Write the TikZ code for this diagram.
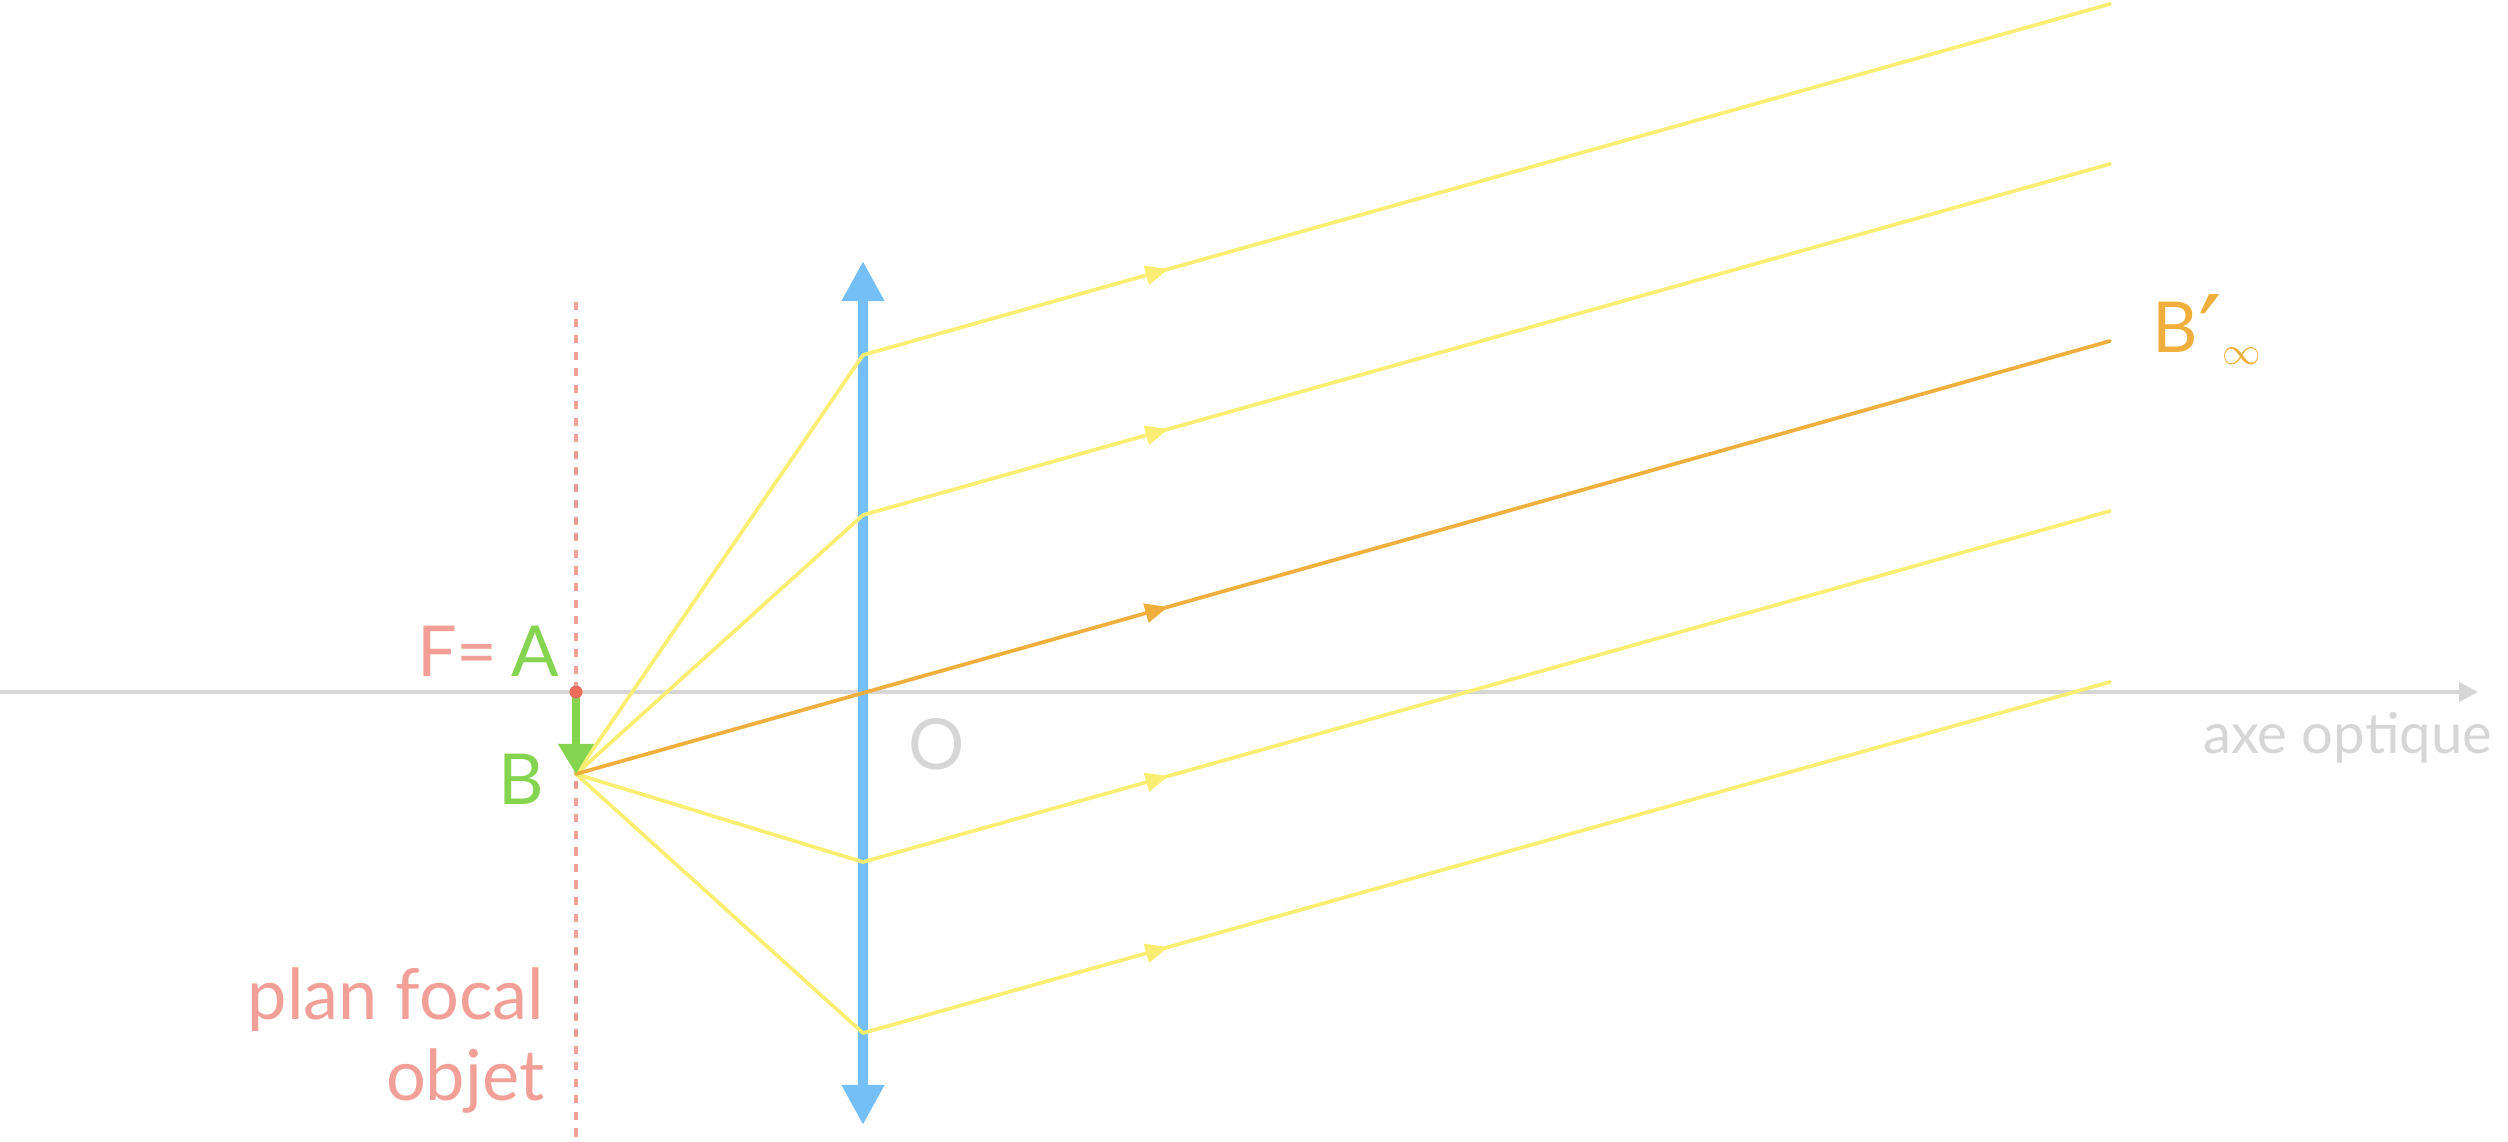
\documentclass[tikz,border=0pt]{standalone}
\usepackage{fontspec}
\setmainfont{Lato}
\newfontfamily\primefont{DejaVu Sans}
\usepackage{xcolor}
\usepackage{tikz}
\usetikzlibrary{arrows.meta,positioning,calc,decorations.markings}
\definecolor{rayyellow}{HTML}{F9EE72}
\definecolor{rayorange}{HTML}{F0AE3C}
\definecolor{objgreen}{HTML}{84D44F}
\definecolor{focalpink}{HTML}{F2A097}
\definecolor{dotred}{HTML}{EE6C58}
\definecolor{axisgray}{HTML}{D6D6D6}
\definecolor{lensblue}{HTML}{74BFF7}

\begin{document}
\begin{tikzpicture}[x=0.01cm, y=-0.01cm,
    lbl/.style={inner sep=0pt, font=\fontsize{20}{23}\selectfont},
    ray/.style={line width=1.05pt, line cap=round, line join=round},
    midarrow/.style={postaction={decorate}, decoration={markings,
        mark=at position #1 with {\arrow{Triangle[length=0.23cm,width=0.19cm]}}}}]
    \useasboundingbox (0,0) rectangle (2508,1142);

    \coordinate (axstart) at (0,692);
    \coordinate (axend) at (2478,692);
    \coordinate (A) at (576,692);
    \coordinate (B) at (576,774);
    \coordinate (O) at (863,692);
    \coordinate (focaltop) at (576,302);
    \coordinate (focalbot) at (576,1142);
    \coordinate (lenstop) at (863,261);
    \coordinate (lensbot) at (863,1125);
    \coordinate (L1) at (863,355);
    \coordinate (L2) at (863,515);
    \coordinate (L4) at (863,862);
    \coordinate (L5) at (863,1033);
    \coordinate (E1) at (2110,4);
    \coordinate (E2) at (2110,164);
    \coordinate (E3) at (2110,341);
    \coordinate (E4) at (2110,511);
    \coordinate (E5) at (2110,682);

    \draw [axisgray, line width=1.1pt, -{Triangle[length=0.19cm,width=0.19cm]}] (axstart) -- (axend);
    \draw [focalpink, line width=1.15pt, dash pattern=on 2.3pt off 2.4pt] (focaltop) -- (focalbot);
    \draw [lensblue, line width=2.85pt, {Triangle[length=0.4cm,width=0.4cm]}-{Triangle[length=0.4cm,width=0.4cm]}] (lensbot) -- (lenstop);

    \foreach \i in {1,2,4,5} {
        \draw [ray, rayyellow] (B) -- (L\i);
        \draw [ray, rayyellow, midarrow=0.245] (L\i) -- (E\i);
    }
    \draw [ray, rayorange, midarrow=0.386] (B) -- (E3);

    \draw [objgreen, line width=2pt, -{Triangle[length=0.3cm,width=0.34cm]}] (A) -- (B);
    \fill [dotred] (A) circle [radius=0.065cm];

    \node [lbl, above left=0.15cm and 0.16cm of A] (FAlbl) {{\color{focalpink}F=}\hspace{0.14cm}{\color{objgreen}A}};
    \node [lbl, left=0.31cm of B, yshift=-0.05cm, text=objgreen] (Blbl) {B};
    \node [lbl, below right=0.26cm and 0.45cm of O, text=axisgray] (Olbl) {O};
    \node [lbl, right=0.42cm of E3, yshift=0.08cm, text=rayorange, anchor=west] (Bplbl) {B\raisebox{-0.19cm}[0pt][0pt]{\primefont\fontsize{30}{30}\selectfont ′}\raisebox{-0.12cm}{\fontsize{11}{11}\selectfont$\infty$}};
    \node [lbl, font=\fontsize{16}{18}\selectfont, anchor=base east, text=axisgray] (axelbl) at (2493,753) {axe optique};
    \node [lbl, align=right, anchor=north east, text=focalpink] (planlbl) at (545,967) {plan focal\\objet};
\end{tikzpicture}
\end{document}
